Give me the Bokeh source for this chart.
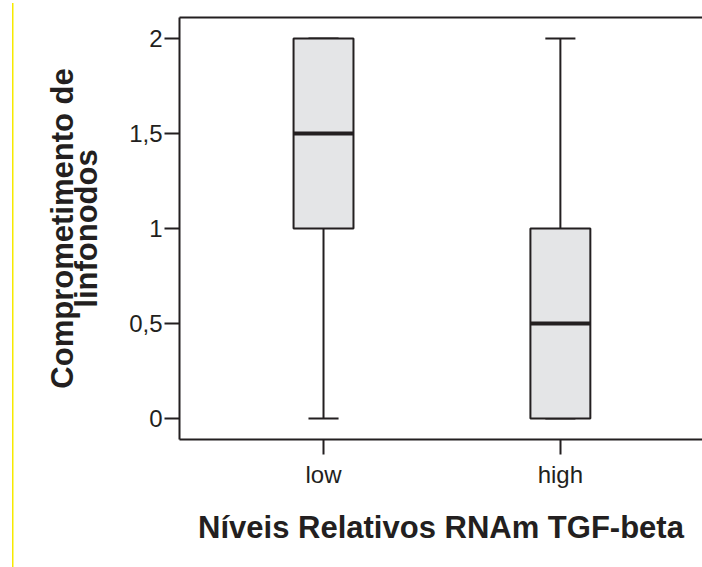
from bokeh.plotting import figure
from bokeh.models import (Range1d, FixedTicker, LinearAxis, ColumnDataSource)
from bokeh.embed import file_html
from bokeh.resources import INLINE

# ---- data ----
categories = ["low", "high"]
cat_pos = [0, 1]
lower = [0.0, 0.0]
q1 = [1.0, 0.0]
median = [1.5, 0.5]
q3 = [2.0, 1.0]
upper = [2.0, 2.0]
y_ticks = [0, 0.5, 1, 1.5, 2]
y_tick_labels = ["0", "0,5", "1", "1,5", "2"]
x_title = "Níveis Relativos RNAm TGF-beta"
y_title_lines = ["Comprometimento de", "linfonodos"]

INK = "#231f20"
FILL = "#e4e5e7"
FONT = "Liberation Sans"

p = figure(width=702, height=567, output_backend="svg", toolbar_location=None,
           x_range=Range1d(-0.608, 1.6),
           y_range=Range1d(-0.1105, 2.1105),
           min_border_left=179, min_border_right=0, min_border_top=17,
           min_border_bottom=128)
p.outline_line_color = None
p.grid.visible = False
p.background_fill_color = "white"
p.border_fill_color = None
# page margin decoration: thin yellow rule at the far left
p.styles = {"background": "linear-gradient(#f7ea00, #f7ea00) no-repeat 12px 3px / 1.5px 564px, #ffffff"}

src = ColumnDataSource(dict(x=cat_pos, lower=lower, q1=q1, med=median,
                            q3=q3, upper=upper))

# whisker stems
p.segment(x0="x", y0="lower", x1="x", y1="q1", source=src,
          line_color=INK, line_width=2)
p.segment(x0="x", y0="q3", x1="x", y1="upper", source=src,
          line_color=INK, line_width=2)
# caps
p.rect(x="x", y="lower", width=0.127, height=2, height_units="screen",
       source=src, fill_color=INK, line_color=None)
p.rect(x="x", y="upper", width=0.127, height=2, height_units="screen",
       source=src, fill_color=INK, line_color=None)
# boxes
p.vbar(x="x", bottom="q1", top="q3", width=0.253, source=src,
       fill_color=FILL, line_color=INK, line_width=2)
# medians
p.rect(x="x", y="med", width=0.253, height=4, height_units="screen",
       source=src, fill_color=INK, line_color=None)

# y axis
ya = p.yaxis[0]
ya.ticker = FixedTicker(ticks=y_ticks)
ya.major_label_overrides = {t: l for t, l in zip(y_ticks, y_tick_labels)}
ya.minor_tick_line_color = None
ya.major_tick_in = 0
ya.major_tick_out = 15
ya.major_label_standoff = 2
ya.axis_line_width = 2
ya.axis_line_color = INK
ya.major_tick_line_width = 2
ya.major_tick_line_color = INK
ya.major_label_text_font = FONT
ya.major_label_text_font_size = "24px"
ya.major_label_text_color = INK
ya.axis_label = y_title_lines[1]
ya.axis_label_text_font = FONT
ya.axis_label_text_font_style = "bold"
ya.axis_label_text_font_size = "31px"
ya.axis_label_text_color = INK
ya.axis_label_standoff = 22

# first line of the y title, on an outer tick-less axis
ya2 = LinearAxis(ticker=FixedTicker(ticks=[]), axis_line_color=None,
                 major_tick_line_color=None, minor_tick_line_color=None,
                 major_tick_out=0, major_tick_in=0, major_label_standoff=0,
                 axis_label=y_title_lines[0], axis_label_text_font=FONT,
                 axis_label_text_font_style="bold", axis_label_text_font_size="31px",
                 axis_label_text_color=INK, axis_label_standoff=-13)
p.add_layout(ya2, "left")

# x axis
xa = p.xaxis[0]
xa.ticker = FixedTicker(ticks=cat_pos)
xa.major_label_overrides = {t: l for t, l in zip(cat_pos, categories)}
xa.minor_tick_line_color = None
xa.major_tick_in = 0
xa.major_tick_out = 15
xa.major_label_standoff = 6
xa.axis_line_width = 2
xa.axis_line_color = INK
xa.major_tick_line_width = 2
xa.major_tick_line_color = INK
xa.major_label_text_font = FONT
xa.major_label_text_font_size = "24px"
xa.major_label_text_color = INK
xa.axis_label = x_title
xa.axis_label_text_font = FONT
xa.axis_label_text_font_style = "bold"
xa.axis_label_text_font_size = "31px"
xa.axis_label_text_color = INK
xa.axis_label_standoff = 19

# top frame line
top = LinearAxis(ticker=FixedTicker(ticks=[]),
                 major_tick_line_color=None, minor_tick_line_color=None,
                 axis_line_width=2, axis_line_color=INK,
                 major_tick_out=0, major_tick_in=0, major_label_standoff=0)
p.add_layout(top, "above")

open("out.html", "w").write(file_html(p, INLINE))
